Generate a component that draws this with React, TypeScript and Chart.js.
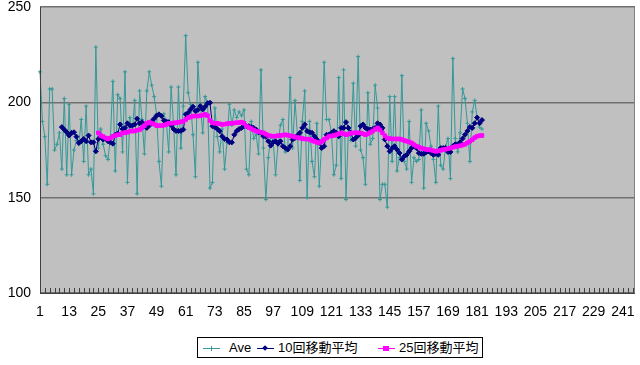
import React, { useEffect, useRef } from "react";
import { Chart, registerables } from "chart.js";

Chart.register(...registerables);

// ---------- data ----------
const categories: string[] = Array.from({ length: 246 }, (_, i) => String(i + 1));

const seriesNames = ["Ave", "10回移動平均", "25回移動平均"];

const yTicks = [100, 150, 200, 250];

const aveValues: number[] = [
  216, 190, 182, 157, 207, 207, 175, 178, 184, 165,
  202, 162, 199, 162, 175, 180, 178, 191, 169, 198,
  162, 165, 152, 229, 176, 186, 178, 172, 170, 182,
  211, 164, 204, 202, 174, 216, 158, 192, 185, 201,
  152, 206, 191, 173, 206, 216, 209, 203, 194, 169,
  156, 194, 190, 174, 208, 188, 162, 208, 176, 198,
  235, 205, 199, 183, 161, 221, 199, 184, 203, 200,
  155, 158, 197, 182, 174, 186, 165, 179, 199, 188,
  196, 192, 195, 193, 196, 165, 162, 190, 181, 183,
  173, 217, 176, 149, 171, 182, 180, 162, 178, 188,
  191, 174, 175, 213, 176, 201, 183, 159, 190, 206,
  150, 190, 169, 161, 189, 156, 180, 221, 191, 191,
  184, 162, 167, 213, 160, 217, 149, 186, 180, 210,
  177, 224, 175, 171, 157, 205, 178, 181, 209, 197,
  149, 157, 157, 145, 203, 169, 203, 164, 171, 214,
  169, 165, 190, 158, 171, 169, 170, 196, 155, 189,
  185, 177, 170, 158, 198, 167, 165, 177, 181, 160,
  223, 181, 174, 184, 207, 202, 189, 169, 195, 201,
  192, 187, 186,
];

// 10-point moving average (points 10..183)
const ma10Values: number[] = [
  187, 185.7, 184.3, 182.6, 184, 184.3, 182, 178.7, 179.6, 180.8,
  179.6, 182.6, 179, 179, 174.3, 180.8, 182, 180.5, 181, 179.6,
  179, 178.3, 183, 183.6, 188.4, 186, 186.6, 189, 187.8, 187.8,
  188.4, 191.4, 189, 189.6, 187.8, 186.6, 187.8, 190, 191.4, 193,
  193.7, 192.8, 190.5, 190, 189.6, 188, 186, 185, 185, 185,
  185.7, 193.7, 194.5, 196.3, 197.7, 195.4, 196, 198, 196.3, 197.7,
  199.5, 199.8, 187.5, 187, 186, 184.9, 182.2, 180.8, 180.5, 179,
  179, 183, 184.9, 186, 186.6, 187.5, 187.5, 187.5, 187, 186.6,
  185.7, 184.3, 184, 182.2, 181.9, 179.6, 177.3, 179, 179.6, 178.3,
  179.6, 177, 176, 175.2, 177, 180.5, 181.3, 182.6, 184, 186.6,
  188.4, 184.9, 184.3, 184, 182.2, 180.5, 178.7, 176, 177, 183,
  183, 184, 184.9, 184, 182.2, 186.6, 186.6, 189.6, 186.6, 184,
  180.5, 181.3, 182.6, 187.5, 188.4, 186.6, 186, 185.7, 186, 186.6,
  189, 188.4, 186.6, 180.5, 177, 174.3, 176, 177, 175.2, 173.4,
  170, 171.7, 172.5, 174.3, 176, 177, 176, 173.4, 173, 173,
  173.8, 174.3, 173.4, 172.5, 173, 172.5, 176, 176, 176, 174,
  174, 177, 178, 178, 179, 181, 183, 185, 187, 186.6,
  189, 192, 189, 190.7,
];

// 25-point moving average (points 25..183)
const ma25Values: number[] = [
  184, 182.6, 182, 181.3, 180.8, 181.3, 182.2, 182.6, 183, 183,
  184, 184, 184.3, 184.9, 184.9, 185, 185.4, 185.7, 186.6, 187.8,
  189, 189.6, 189, 188.5, 187.8, 187.8, 187.8, 188, 188.4, 189,
  189, 189.2, 189.3, 189.5, 189.8, 190, 191, 191.9, 192.3, 192.8,
  192.8, 192.8, 193, 193.3, 193.7, 193, 190.5, 189.3, 189, 189,
  188.7, 188.4, 188.5, 188.8, 189, 189, 189.2, 189.3, 189.4, 189.6,
  189, 187.5, 186.8, 186.2, 185.5, 184.9, 184.6, 184.3, 184, 183.3,
  182.6, 182.4, 182.2, 182.3, 182.5, 182.6, 182.8, 183, 182.7, 182.5,
  182.2, 181.8, 181.5, 181.3, 181, 180.8, 180.7, 180.6, 180, 179.5,
  179, 178.7, 179.5, 180.5, 181.3, 182.2, 182.4, 182.6, 183, 183.5,
  184, 183.5, 183, 183.4, 183.8, 184, 184, 184, 184, 183.5,
  183, 183.5, 184.2, 184.9, 185.8, 186.6, 185.5, 184, 182.5, 181.3,
  181, 180.8, 180.8, 180.8, 180.8, 180.5, 180, 179.6, 179.2, 178.7,
  177.8, 177, 176.5, 176, 175.6, 175.3, 175.2, 175, 174.6, 174.3,
  174.5, 174.8, 175.2, 175.4, 175.7, 176, 176.4, 176.8, 177, 177.2,
  177.6, 178, 178.8, 179.6, 180.4, 181.5, 182.2, 182.5, 182.6,
];

const ma10Data: (number | null)[] = [...Array(9).fill(null), ...ma10Values];
const ma25Data: (number | null)[] = [...Array(24).fill(null), ...ma25Values];

// ---------- style ----------
const FONT = "'Liberation Sans', Arial, 'Noto Sans CJK JP', sans-serif";
const TEAL = "#339999";
const NAVY = "#000080";
const MAGENTA = "#FF00FF";

const framePlugin = {
  id: "frame",
  beforeDraw(chart: any) {
    const { ctx, chartArea } = chart;
    const { left, top, right, bottom } = chartArea;
    ctx.save();
    ctx.fillStyle = "#C0C0C0";
    ctx.fillRect(left, top, right - left, bottom - top);
    ctx.restore();
  },
  afterDraw(chart: any) {
    const { ctx, chartArea, scales } = chart;
    const { left, top, right, bottom } = chartArea;
    ctx.save();
    ctx.strokeStyle = "#808080";
    ctx.lineWidth = 1;
    ctx.beginPath();
    ctx.moveTo(Math.round(right) - 0.5, top);
    ctx.lineTo(Math.round(right) - 0.5, bottom);
    ctx.stroke();
    ctx.strokeStyle = "#404040";
    ctx.beginPath();
    ctx.moveTo(Math.round(left) + 0.5, top);
    ctx.lineTo(Math.round(left) + 0.5, bottom);
    ctx.moveTo(left, Math.round(bottom) + 0.5);
    ctx.lineTo(right, Math.round(bottom) + 0.5);
    ctx.stroke();
    const xs = scales.x;
    ctx.beginPath();
    for (let i = 0; i < categories.length; i += 2) {
      const x = Math.round(xs.getPixelForValue(i)) + 0.5;
      ctx.moveTo(x, bottom - 5);
      ctx.lineTo(x, bottom);
    }
    ctx.stroke();
    ctx.restore();
  },
};

function LegendSample({ color, kind }: { color: string; kind: "cross" | "diamond" | "square" }) {
  const marker =
    kind === "cross" ? (
      <>
        <div style={{ position: "absolute", left: 6, top: 0, width: 5, height: 1, background: color }} />
        <div style={{ position: "absolute", left: 8, top: -2, width: 1, height: 5, background: color }} />
      </>
    ) : kind === "diamond" ? (
      <div
        style={{
          position: "absolute",
          left: 6,
          top: -2,
          width: 4,
          height: 4,
          background: color,
          transform: "rotate(45deg)",
        }}
      />
    ) : (
      <div style={{ position: "absolute", left: 5, top: -2, width: 6, height: 5, background: color }} />
    );
  return (
    <div style={{ position: "relative", width: 17, height: 1, background: color }}>{marker}</div>
  );
}

export default function App() {
  const canvasRef = useRef<HTMLCanvasElement>(null);

  useEffect(() => {
    const canvas = canvasRef.current;
    if (!canvas) return;
    const chart = new Chart(canvas, {
      type: "line",
      data: {
        labels: categories,
        datasets: [
          {
            label: seriesNames[0],
            data: aveValues,
            borderColor: TEAL,
            backgroundColor: TEAL,
            borderWidth: 1,
            pointStyle: "cross",
            pointRadius: 2,
            pointBorderColor: TEAL,
            pointBorderWidth: 1,
            tension: 0,
            order: 3,
          },
          {
            label: seriesNames[1],
            data: ma10Data,
            borderColor: NAVY,
            backgroundColor: NAVY,
            borderWidth: 1,
            pointStyle: "rectRot",
            pointRadius: 2.5,
            pointBackgroundColor: NAVY,
            pointBorderColor: NAVY,
            pointBorderWidth: 1,
            tension: 0,
            order: 2,
          },
          {
            label: seriesNames[2],
            data: ma25Data,
            borderColor: MAGENTA,
            backgroundColor: MAGENTA,
            borderWidth: 1.5,
            pointStyle: "rect",
            pointRadius: 2.5,
            pointBackgroundColor: MAGENTA,
            pointBorderColor: MAGENTA,
            pointBorderWidth: 1,
            tension: 0,
            order: 1,
          },
        ],
      },
      options: {
        responsive: false,
        animation: false,
        events: [],
        layout: { padding: { top: 7, right: 5, left: 0, bottom: 0 } },
        plugins: {
          legend: { display: false },
          tooltip: { enabled: false },
        },
        scales: {
          x: {
            type: "category",
            offset: false,
            grid: { display: false, drawTicks: false },
            border: { display: false },
            ticks: {
              autoSkip: false,
              maxRotation: 0,
              minRotation: 0,
              padding: 11,
              color: "#000",
              font: { family: FONT, size: 14 },
              callback: (_v: any, i: number) => (i % 12 === 0 ? categories[i] : ""),
            },
            afterFit: (s: any) => {
              s.height = 37;
              s.paddingLeft = 0;
              s.paddingRight = 0;
            },
          },
          y: {
            min: yTicks[0],
            max: yTicks[yTicks.length - 1],
            afterBuildTicks: (s: any) => {
              s.ticks = yTicks.map((v) => ({ value: v }));
            },
            ticks: {
              padding: 9,
              color: "#000",
              font: { family: FONT, size: 14 },
            },
            grid: { color: "#707070", lineWidth: 1.5, drawTicks: false },
            border: { display: false },
            afterFit: (s: any) => {
              s.width = 40;
              s.paddingTop = 0;
              s.paddingBottom = 0;
            },
          },
        },
      },
      plugins: [framePlugin],
    });
    return () => chart.destroy();
  }, []);

  const textStyle: React.CSSProperties = {
    position: "absolute",
    top: 1,
    fontFamily: FONT,
    fontSize: 13,
    lineHeight: "17px",
    color: "#000",
    whiteSpace: "nowrap",
  };

  return (
    <div style={{ position: "absolute", left: 0, top: 0, width: 640, height: 365, background: "#fff" }}>
      <canvas ref={canvasRef} width={640} height={330} style={{ display: "block", width: 640, height: 330 }} />
      <div
        style={{
          position: "absolute",
          left: 197,
          top: 337,
          width: 284,
          height: 19,
          border: "1px solid #000",
          background: "#fff",
        }}
      >
        <div style={{ position: "absolute", left: 5, top: 10 }}>
          <LegendSample color={TEAL} kind="cross" />
        </div>
        <div style={{ ...textStyle, left: 31 }}>{seriesNames[0]}</div>
        <div style={{ position: "absolute", left: 59, top: 10 }}>
          <LegendSample color={NAVY} kind="diamond" />
        </div>
        <div style={{ ...textStyle, left: 80 }}>{seriesNames[1]}</div>
        <div style={{ position: "absolute", left: 180, top: 10 }}>
          <LegendSample color={MAGENTA} kind="square" />
        </div>
        <div style={{ ...textStyle, left: 201 }}>{seriesNames[2]}</div>
      </div>
    </div>
  );
}
